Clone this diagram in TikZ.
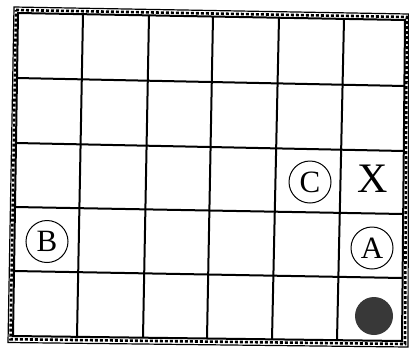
\documentclass[tikz,border=0pt]{standalone}
\usepackage{fontspec}
\setmainfont{Liberation Serif}
\begin{document}
\begin{tikzpicture}[x=1pt,y=-1pt,
  gridline/.style={line width=2pt, black},
  frameline/.style={line width=1.2pt, black},
  framedash/.style={line width=2.6pt, black, dash pattern=on 3pt off 2pt},
  circled/.style={circle, draw, line width=1pt, minimum size=42pt, inner sep=0pt, font=\fontsize{31}{31}\selectfont},
  bigletter/.style={inner sep=0pt, font=\fontsize{42}{42}\selectfont},
  dot/.style={circle, fill=black!78, minimum size=38pt, inner sep=0pt}]
\useasboundingbox (0,0) rectangle (409,349);
% frame
\draw[frameline] (14,7) -- (408.6,14) -- (408,347) -- (8,342.5) -- cycle;
\draw[framedash] (16,10) -- (406.8,17) -- (405,344) -- (10.5,339.2) -- cycle;
% grid boundary
\draw[gridline] (18,13) -- (405,20) -- (402,341) -- (13,336) -- cycle;
% vertical lines
\foreach \xt/\yt/\xb/\yb in {83/14.2/77/336.8, 149/15.4/143/337.7, 213/16.5/207/338.5, 279/17.7/272/339.3, 344/18.9/337/340.2}
  \draw[gridline] (\xt,\yt) -- (\xb,\yb);
% horizontal lines
\foreach \xl/\yl/\xr/\yr in {17/78/404.4/86, 16/143/403.8/151, 15/207/403.2/214, 14/271/402.6/278}
  \draw[gridline] (\xl,\yl) -- (\xr,\yr);
% markers
\node[circled] (C) at (310,182) {C};
\node[bigletter] (X) at (372.5,179) {X};
\node[circled] (B) at (47,241.5) {B};
\node[circled] (A) at (372,248) {A};
\node[dot] (D) at (374,316) {};
\end{tikzpicture}
\end{document}
